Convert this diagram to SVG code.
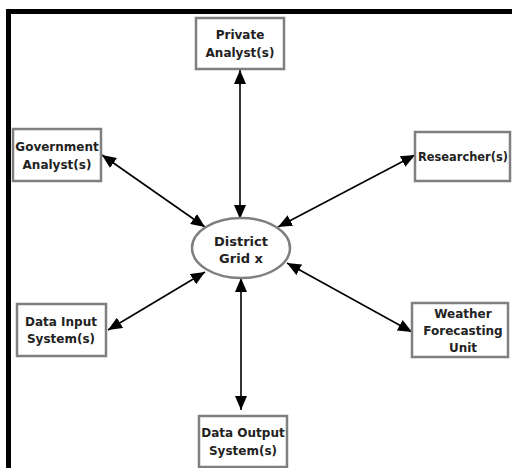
<svg xmlns="http://www.w3.org/2000/svg" width="512" height="468" viewBox="0 0 512 468">
<style>
.box{fill:#fff;stroke:#7f7f7f;stroke-width:2.5}
.t{font-family:"DejaVu Sans",Verdana,sans-serif;font-weight:bold;font-size:12px;fill:#222;text-anchor:middle}
.c{stroke:#000;stroke-width:1.6;fill:none;marker-start:url(#ah);marker-end:url(#ah)}
</style>
<defs>
<marker id="ah" viewBox="0 0 14 12" refX="14" refY="6" markerWidth="14" markerHeight="12" markerUnits="userSpaceOnUse" orient="auto-start-reverse">
<path d="M0,0 L14,6 L0,12 Z" fill="#000"/>
</marker>
</defs>
<rect x="0" y="0" width="512" height="468" fill="#fff"/>
<path d="M8.5,468 V11.5 H512" fill="none" stroke="#000" stroke-width="5"/>
<g id="connectors">
<line class="c" x1="240" y1="219" x2="240" y2="70"/>
<line class="c" x1="205" y1="227" x2="102" y2="155"/>
<line class="c" x1="278" y1="227" x2="415" y2="155"/>
<line class="c" x1="205" y1="272" x2="108" y2="330"/>
<line class="c" x1="287" y1="263" x2="412" y2="332"/>
<line class="c" x1="241" y1="278" x2="241" y2="410"/>
</g>
<g id="district">
<ellipse cx="241" cy="248" rx="49" ry="30" fill="#fff" stroke="#7f7f7f" stroke-width="2.5"/>
<text class="t" x="241" y="246" style="font-size:13px">District</text>
<text class="t" x="241" y="263" style="font-size:13px">Grid x</text>
</g>
<g id="private">
<rect class="box" x="196" y="18" width="88" height="51"/>
<text class="t" x="240" y="39">Private</text>
<text class="t" x="240" y="57">Analyst(s)</text>
</g>
<g id="government">
<rect class="box" x="13" y="129" width="88" height="52"/>
<text class="t" x="57" y="151">Government</text>
<text class="t" x="57" y="169">Analyst(s)</text>
</g>
<g id="researcher">
<rect class="box" x="415" y="132" width="95" height="49"/>
<text class="t" x="463" y="161" textLength="90" lengthAdjust="spacingAndGlyphs">Researcher(s)</text>
</g>
<g id="datainput">
<rect class="box" x="17" y="304" width="89" height="52"/>
<text class="t" x="61" y="326">Data Input</text>
<text class="t" x="61" y="343">System(s)</text>
</g>
<g id="weather">
<rect class="box" x="412" y="303" width="96" height="54"/>
<text class="t" x="463" y="318">Weather</text>
<text class="t" x="463" y="335">Forecasting</text>
<text class="t" x="463" y="352">Unit</text>
</g>
<g id="dataoutput">
<rect class="box" x="199" y="416" width="88" height="51"/>
<text class="t" x="243" y="437">Data Output</text>
<text class="t" x="243" y="455">System(s)</text>
</g>
</svg>
